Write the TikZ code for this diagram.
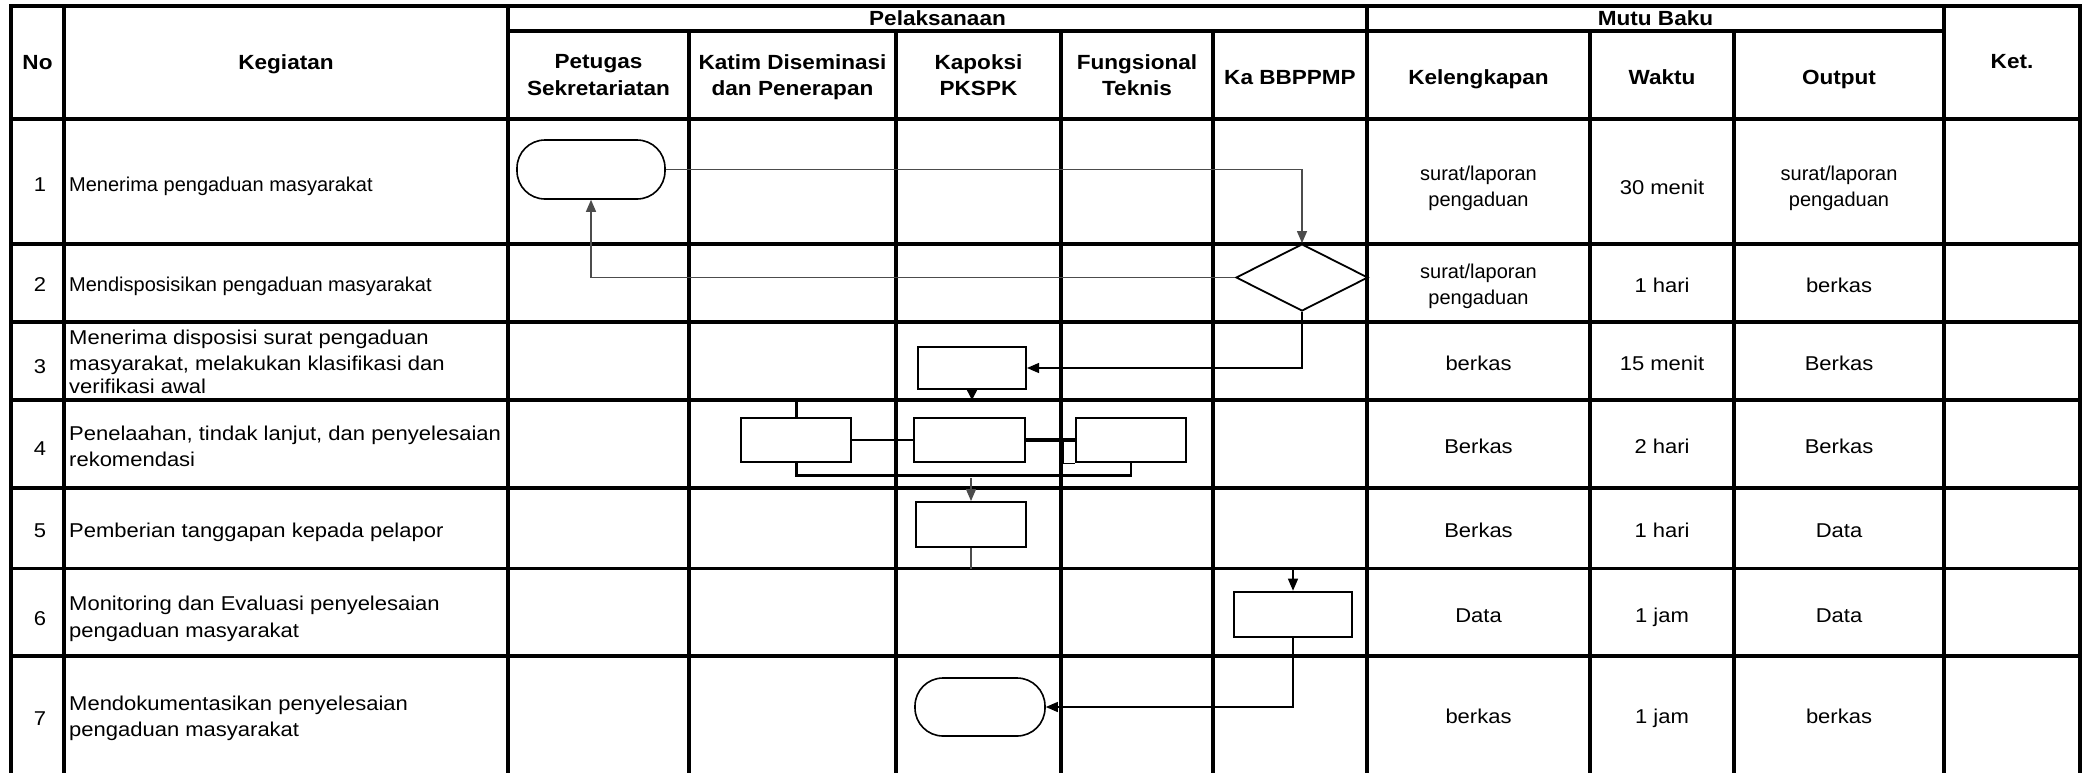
\documentclass[tikz,border=0pt]{standalone}
\usepackage{fontspec}
\setmainfont{Liberation Sans}[FakeStretch=1.1]
\newfontfamily\plainsans{Liberation Sans}
\usetikzlibrary{arrows.meta,shapes.geometric}
\begin{document}
\begin{tikzpicture}[x=1pt,y=-1pt,
  gridline/.style={line width=3.5pt},
  hdr/.style={font=\fontsize{20.5}{26.5}\selectfont\bfseries, align=center, inner sep=0pt, execute at begin node=\strut, execute at end node=\strut},
  cell/.style={font=\fontsize{20}{26.5}\selectfont, align=center, inner sep=0pt, execute at begin node=\strut, execute at end node=\strut},
  narrow/.style={font=\plainsans\fontsize{20}{26.5}\selectfont},
  keg/.style={cell, align=left, anchor=west},
  proc/.style={draw, fill=white, line width=2pt, inner sep=0pt, minimum width=110pt, minimum height=44.5pt},
  term/.style={draw, fill=white, line width=1.6pt, inner sep=0pt, rounded corners=28pt},
  dec/.style={draw, fill=white, diamond, line width=1.8pt, inner sep=0pt, minimum width=132pt, minimum height=67pt},
  conn/.style={line width=1.3pt, black!70},
  link/.style={line width=2.5pt},
  tip/.style={-{Triangle[length=12pt,width=10pt]}},
]
\fill[white] (0,0) rectangle (2091,772);
\useasboundingbox (0,0) rectangle (2091,772);

% ---------- grid ----------
\draw[gridline] (11,6) rectangle (2080,776);
\foreach \y in {119,244,322,400,488,568.5,656} \draw[gridline] (11,\y) -- (2080,\y);
\draw[gridline] (508,31) -- (1944,31);
\foreach \x in {64,508,1367,1944} \draw[gridline] (\x,6) -- (\x,776);
\foreach \x in {689,896,1061,1213,1590,1734} \draw[gridline] (\x,31) -- (\x,776);

% ---------- headers ----------
\node[hdr] (hno) at (37.5,64) {No};
\node[hdr] (hkeg) at (286,64) {Kegiatan};
\node[hdr] (hpel) at (937.5,20.5) {Pelaksanaan};
\node[hdr] (hmutu) at (1655.5,20.5) {Mutu Baku};
\node[hdr] (hket) at (2012,63) {Ket.};
\node[hdr] (hpet) at (598.5,79) {Petugas\\Sekretariatan};
\node[hdr] (hkat) at (792.5,79) {Katim Diseminasi\\dan Penerapan};
\node[hdr] (hkap) at (978.5,79) {Kapoksi\\PKSPK};
\node[hdr] (hfun) at (1137,79) {Fungsional\\Teknis};
\node[hdr] (hka) at (1290,79) {Ka BBPPMP};
\node[hdr] (hkel) at (1478.5,79) {Kelengkapan};
\node[hdr] (hwak) at (1662,79) {Waktu};
\node[hdr] (hout) at (1839,79) {Output};

% ---------- numbers ----------
\node[cell] (n1) at (40,186) {1};
\node[cell] (n2) at (40,286.5) {2};
\node[cell] (n3) at (40,368) {3};
\node[cell] (n4) at (40,450) {4};
\node[cell] (n5) at (40,532.5) {5};
\node[cell] (n6) at (40,620.5) {6};
\node[cell] (n7) at (40,720) {7};

% ---------- kegiatan ----------
\node[keg, narrow] (k1) at (69,186) {Menerima pengaduan masyarakat};
\node[keg, narrow] (k2) at (69,286.5) {Mendisposisikan pengaduan masyarakat};
\node[keg] (k3) at (69,365.7) {Menerima disposisi surat pengaduan\\masyarakat, melakukan klasifikasi dan\\[-4pt]verifikasi awal};
\node[keg] (k4) at (69,450) {Penelaahan, tindak lanjut, dan penyelesaian\\rekomendasi};
\node[keg] (k5) at (69,532.5) {Pemberian tanggapan kepada pelapor};
\node[keg] (k6) at (69,620.5) {Monitoring dan Evaluasi penyelesaian\\pengaduan masyarakat};
\node[keg] (k7) at (69,720) {Mendokumentasikan penyelesaian\\pengaduan masyarakat};

% ---------- mutu baku ----------
\node[cell, narrow] (kel1) at (1478.5,190) {surat/laporan\\pengaduan};
\node[cell] (wak1) at (1662,189) {30 menit};
\node[cell, narrow] (out1) at (1839,190) {surat/laporan\\pengaduan};
\node[cell, narrow] (kel2) at (1478.5,288) {surat/laporan\\pengaduan};
\node[cell] (wak2) at (1662,287) {1 hari};
\node[cell] (out2) at (1839,287) {berkas};
\node[cell] (kel3) at (1478.5,365) {berkas};
\node[cell] (wak3) at (1662,365) {15 menit};
\node[cell] (out3) at (1839,365) {Berkas};
\node[cell] (kel4) at (1478.5,448) {Berkas};
\node[cell] (wak4) at (1662,448) {2 hari};
\node[cell] (out4) at (1839,448) {Berkas};
\node[cell] (kel5) at (1478.5,532) {Berkas};
\node[cell] (wak5) at (1662,532) {1 hari};
\node[cell] (out5) at (1839,532) {Data};
\node[cell] (kel6) at (1478.5,617.5) {Data};
\node[cell] (wak6) at (1662,617.5) {1 jam};
\node[cell] (out6) at (1839,617.5) {Data};
\node[cell] (kel7) at (1478.5,718.5) {berkas};
\node[cell] (wak7) at (1662,718.5) {1 jam};
\node[cell] (out7) at (1839,718.5) {berkas};

% ---------- flow shapes ----------
\node[term, minimum width=148pt, minimum height=59pt] (t1) at (591,169.5) {};
\node[dec] (d2) at (1302,277.5) {};
\node[proc, minimum width=108pt, minimum height=42pt] (r3) at (972,368) {};
\node[proc] (r4a) at (796.3,440) {};
\node[proc, minimum width=111pt] (r4b) at (969.8,440) {};
\node[proc] (r4c) at (1131,440) {};
\node[proc, minimum height=45pt] (r5) at (971,524.5) {};
\node[proc, minimum width=118pt, minimum height=45pt] (r6) at (1293,614.2) {};
\node[term, minimum width=130pt, minimum height=58pt] (t7) at (980,707) {};

\coordinate (r3end) at (972,400);
\coordinate (r4top) at (796.3,400);
\coordinate (brk) at (796.3,475.6);
\coordinate (elb) at (1063.5,440);
\coordinate (r5in) at (971,478);
\coordinate (r5out) at (971,568.5);
\coordinate (r6in) at (1293,568.5);

% ---------- connectors ----------
\draw[conn,tip] (t1.east) -| (d2.north);
\draw[conn,tip] (d2.west) -| (t1.south);
\draw[line width=1.3pt,tip] (d2.south) |- (r3.east);
\draw[line width=1.3pt,-{Triangle[length=10pt,width=10pt]}] (r3.south) -- (r3end);
\draw[link] (r4a.north) -- (r4top);
\draw[link] (r4a.east) -- (r4b.west);
\draw[link, line width=3.5pt] (r4b.east) -- (r4c.west);
\draw[line width=1.3pt] (elb) |- (r4c.south west);
\draw[link] (r4a.south) -- (brk) -| (r4c.south);
\draw[conn,tip] (r5in) -- (r5.north);
\draw[conn] (r5.south) -- (r5out);
\draw[line width=1.3pt,tip] (r6in) -- (r6.north);
\draw[line width=1.3pt,tip] (r6.south) |- (t7.east);
\end{tikzpicture}
\end{document}
